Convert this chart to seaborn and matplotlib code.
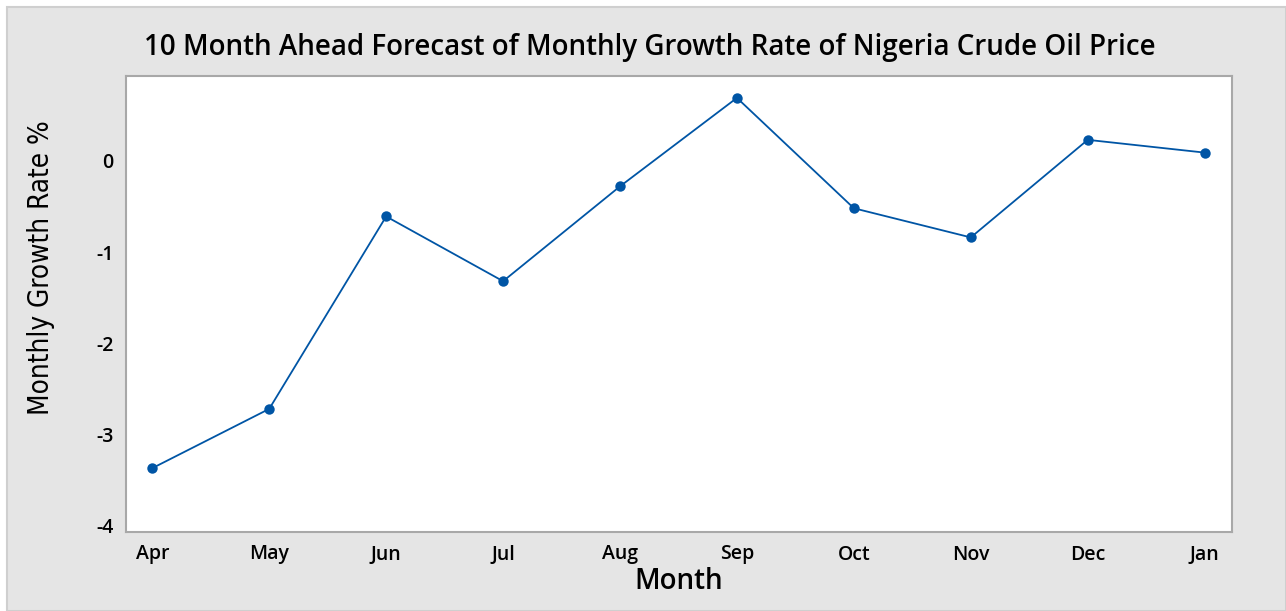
import matplotlib
matplotlib.use("Agg")
import matplotlib.pyplot as plt
from matplotlib.patches import Rectangle
import seaborn as sns
import pandas as pd

# forecast values
months = ["Apr", "May", "Jun", "Jul", "Aug", "Sep", "Oct", "Nov", "Dec", "Jan"]
growth = [-3.37, -2.72, -0.61, -1.32, -0.28, 0.69, -0.52, -0.84, 0.23, 0.09]
yticks = [0, -1, -2, -3, -4]

df = pd.DataFrame({"month": range(len(months)), "growth": growth})

sns.set_style("white")
plt.rcParams["font.family"] = ["Open Sans", "DejaVu Sans"]
plt.rcParams["text.color"] = "black"
plt.rcParams["xtick.color"] = "black"
plt.rcParams["ytick.color"] = "black"
plt.rcParams["axes.labelcolor"] = "black"

fig = plt.figure(figsize=(12.86, 6.11), dpi=100)
fig.patch.set_facecolor("white")
# grey panel with light border
fig.patches.append(Rectangle((7 / 1286, 0), 1 - 7 / 1286, 1 - 7 / 611, transform=fig.transFigure,
                             facecolor="#e5e5e5", edgecolor="#cfcfcf", linewidth=1.5, zorder=-5))

ax = fig.add_axes([126 / 1286, 1 - 532 / 611, (1232 - 126) / 1286, (532 - 76) / 611])
ax.set_zorder(1)
ax.set_facecolor("white")

sns.lineplot(data=df, x="month", y="growth", ax=ax, color="#0055a5", linewidth=1.3,
             marker="o", markersize=7.5, markeredgewidth=0)

ax.set_xlim(-0.225, 9.234)
ax.set_ylim(-4.07, 0.93)
ax.set_xticks(range(len(months)))
ax.set_xticklabels(months, fontsize=14, fontweight="semibold")
ax.set_yticks(yticks)
ax.set_yticklabels([str(t) if t >= 0 else "-" + str(-t) for t in yticks], fontsize=14, fontweight="semibold")

for s in ax.spines.values():
    s.set_color("#a8a8a8")
    s.set_linewidth(1.5)
ax.tick_params(axis="both", length=6, width=1.5, color="#a8a8a8", pad=3, labelcolor="black")

ax.set_xlabel("Month", fontsize=20, fontweight="semibold", labelpad=2)
ax.set_ylabel("Monthly Growth Rate %", fontsize=20, family="DejaVu Sans", fontstretch="condensed")
ax.yaxis.set_label_coords(-0.064, 0.58)
fig.text(650 / 1286, 1 - 48 / 611, "10 Month Ahead Forecast of Monthly Growth Rate of Nigeria Crude Oil Price",
         ha="center", va="center", fontsize=20, fontweight="semibold")

fig.savefig("out.png", dpi=100)
